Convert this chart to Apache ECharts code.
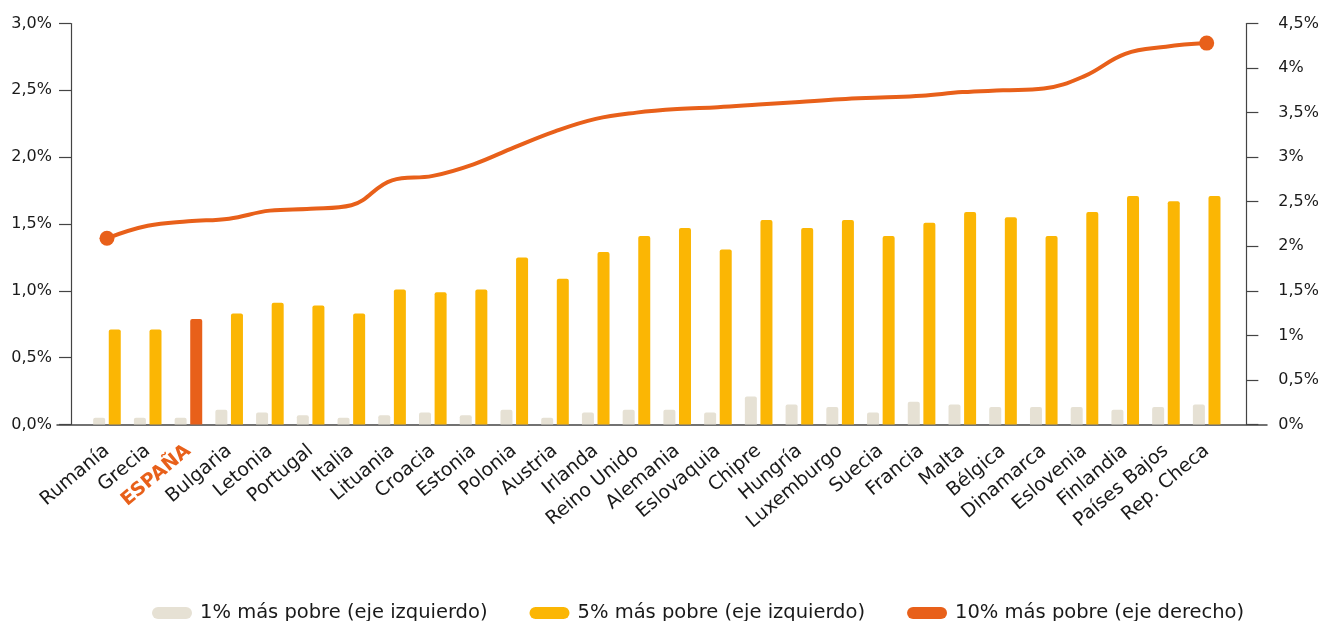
<!DOCTYPE html>
<html>
<head>
<meta charset="utf-8">
<script src="https://cdn.jsdelivr.net/npm/echarts@6/dist/echarts.min.js"></script>
<style>
    html, body { margin: 0; padding: 0; background: #fff; }
    #chart { width: 1322px; height: 621px; }
</style>
</head>
<body>
<div id="chart"></div>
<script>
const countries = ['Rumanía', 'Grecia', 'ESPAÑA', 'Bulgaria', 'Letonia', 'Portugal', 'Italia', 'Lituania', 'Croacia', 'Estonia', 'Polonia', 'Austria', 'Irlanda', 'Reino Unido', 'Alemania', 'Eslovaquia', 'Chipre', 'Hungría', 'Luxemburgo', 'Suecia', 'Francia', 'Malta', 'Bélgica', 'Dinamarca', 'Eslovenia', 'Finlandia', 'Países Bajos', 'Rep. Checa']
// 1% más pobre (eje izquierdo)
const poorest1 = [0.05, 0.05, 0.05, 0.11, 0.09, 0.07, 0.05, 0.07, 0.09, 0.07, 0.11, 0.05, 0.09, 0.11, 0.11, 0.09, 0.21, 0.15, 0.13, 0.09, 0.17, 0.15, 0.13, 0.13, 0.13, 0.11, 0.13, 0.15]
// 5% más pobre (eje izquierdo)
const poorest5 = [0.71, 0.71, 0.79, 0.83, 0.91, 0.89, 0.83, 1.01, 0.99, 1.01, 1.25, 1.09, 1.29, 1.41, 1.47, 1.31, 1.53, 1.47, 1.53, 1.41, 1.51, 1.59, 1.55, 1.41, 1.59, 1.71, 1.67, 1.71]
// 10% más pobre (eje derecho)
const poorest10 = [2.09, 2.23, 2.28, 2.31, 2.40, 2.42, 2.46, 2.74, 2.79, 2.92, 3.11, 3.29, 3.43, 3.50, 3.54, 3.56, 3.59, 3.62, 3.65, 3.67, 3.69, 3.73, 3.75, 3.77, 3.91, 4.16, 4.24, 4.28]
const highlight = 'ESPAÑA'

const font = 'DejaVu Sans'
const orange = '#e8601a'
const yellow = '#fbb604'
const beige = '#e6e1d4'
const axisColor = '#444'

const chart = echarts.init(document.getElementById('chart'))
const last = poorest10.length - 1

chart.setOption({
    animation: false,
    textStyle: { fontFamily: font },
    grid: [
        { left: 86.6, right: 94.3, top: 23.5, bottom: 196.5 },
        { left: 57, right: 55, top: 23.5, bottom: 196.5 }
    ],
    legend: {
        left: 147,
        top: 598,
        itemWidth: 40,
        itemHeight: 12,
        itemGap: 42,
        icon: 'path://M6,0 H34 A6,6 0 0 1 34,12 H6 A6,6 0 0 1 6,0 Z',
        textStyle: { fontFamily: font, fontSize: 19.5, color: '#1a1a1a', padding: [0, 0, 0, 3] },
        data: ['1% más pobre (eje izquierdo)', '5% más pobre (eje izquierdo)', '10% más pobre (eje derecho)']
    },
    xAxis: [
        {
            type: 'category',
            gridIndex: 0,
            data: countries,
            axisLine: { show: false },
            axisTick: { show: false },
            axisLabel: {
                interval: 0,
                rotate: 40,
                margin: 24,
                fontSize: 19,
                color: '#1a1a1a',
                fontFamily: font,
                formatter: v => (v === highlight ? '{hl|' + v + '}' : v),
                rich: {
                    hl: { color: orange, fontWeight: 'bold', fontSize: 19, fontFamily: font }
                }
            }
        },
        {
            // long base line under both axes
            type: 'value',
            gridIndex: 1,
            min: 0,
            max: 1,
            axisLine: { show: true, onZero: false, lineStyle: { color: axisColor, width: 1.5 } },
            axisTick: { show: false },
            axisLabel: { show: false },
            splitLine: { show: false }
        }
    ],
    yAxis: [
        {
            type: 'value',
            gridIndex: 0,
            position: 'left',
            offset: 15.6,
            min: 0,
            max: 3,
            interval: 0.5,
            axisLine: { show: true, lineStyle: { color: axisColor, width: 1.2 } },
            axisTick: { show: true, length: 12, lineStyle: { color: axisColor, width: 1.2 } },
            splitLine: { show: false },
            axisLabel: {
                margin: 19,
                fontSize: 16,
                color: '#1a1a1a',
                formatter: v => v.toFixed(1).replace('.', ',') + '%'
            }
        },
        {
            type: 'value',
            gridIndex: 0,
            position: 'right',
            offset: 19.3,
            min: 0,
            max: 4.5,
            interval: 0.5,
            axisLine: { show: true, lineStyle: { color: axisColor, width: 1.2 } },
            axisTick: { show: true, length: 12, lineStyle: { color: axisColor, width: 1.2 } },
            splitLine: { show: false },
            axisLabel: {
                margin: 32,
                fontSize: 16,
                color: '#1a1a1a',
                formatter: v => String(v).replace('.', ',') + '%'
            }
        },
        { type: 'value', gridIndex: 1, show: false, min: 0, max: 1 }
    ],
    series: [
        {
            name: '1% más pobre (eje izquierdo)',
            type: 'bar',
            barWidth: 12,
            barGap: '30%',
            itemStyle: { color: beige, borderRadius: [2, 2, 0, 0] },
            data: poorest1
        },
        {
            name: '5% más pobre (eje izquierdo)',
            type: 'bar',
            barWidth: 12,
            barGap: '30%',
            itemStyle: { color: yellow, borderRadius: [2, 2, 0, 0] },
            data: poorest5.map((v, i) => (countries[i] === highlight ? { value: v, itemStyle: { color: orange } } : v))
        },
        {
            name: '10% más pobre (eje derecho)',
            type: 'line',
            yAxisIndex: 1,
            smooth: 0.4,
            symbol: 'circle',
            symbolSize: (v, p) => (p.dataIndex === 0 || p.dataIndex === last ? 15 : 0),
            itemStyle: { color: orange },
            lineStyle: { color: orange, width: 4 },
            data: poorest10
        }
    ]
})
</script>
</body>
</html>
